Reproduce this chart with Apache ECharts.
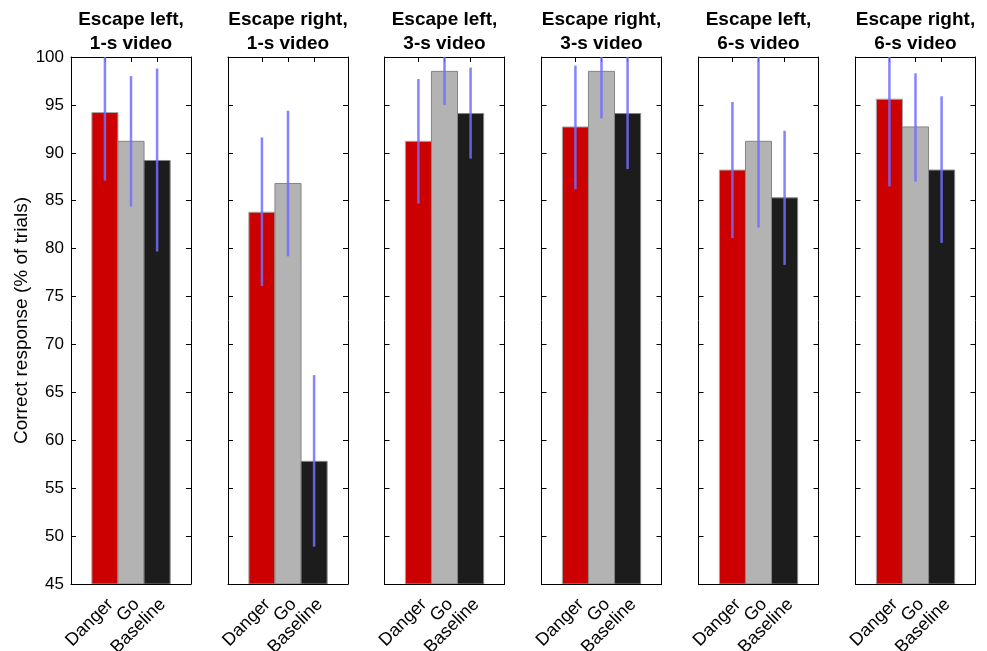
<!DOCTYPE html>
<html>
<head>
<meta charset="utf-8">
<script src="https://cdn.jsdelivr.net/npm/echarts@6/dist/echarts.min.js"></script>
<style>html,body{margin:0;padding:0;background:#fff;}#c{width:987px;height:651px;}</style>
</head>
<body>
<div id="c"></div>
<script>
// ---- data ----
const panelTitles = ['Escape left,\n1-s video','Escape right,\n1-s video','Escape left,\n3-s video','Escape right,\n3-s video','Escape left,\n6-s video','Escape right,\n6-s video'];
const conditions = ['Danger','Go','Baseline'];
const positions = [1, 2, 3];
const means   = [[94.2,91.2,89.2],[83.8,86.8,57.8],[91.2,98.5,94.1],[92.7,98.5,94.1],[88.2,91.2,85.3],[95.6,92.7,88.2]];
const errLow  = [[87.1,84.4,79.7],[76.1,79.2,48.9],[84.7,95.0,89.4],[86.2,93.6,88.3],[81.1,82.2,78.3],[86.5,87.0,80.6]];
const errHigh = [[101.3,98.0,98.8],[91.6,94.4,66.8],[97.7,102.0,98.9],[99.1,103.4,100.0],[95.3,100.3,92.3],[104.8,98.3,95.9]];
const yTicks = [45,50,55,60,65,70,75,80,85,90,95,100];
const yLabel = 'Correct response (% of trials)';

// ---- style ----
const FONT = 'Liberation Sans, Arial, Helvetica, sans-serif';
const barFill = ['#cc0000','#b3b3b3','#1c1c1c'];
const barEdge = ['#a6a6a6','#858585','#858585'];
const errColor = 'rgba(110,110,255,0.85)';
const yMin = 45, yMax = 100, xMin = -0.3, xMax = 4.3;
const lefts = [71, 228, 384.5, 541.5, 698.5, 855.5];
const gridW = 120, gridTop = 57, gridH = 527;

const chart = echarts.init(document.getElementById('c'), null, {renderer:'canvas'});
const grid = [], xAxis = [], yAxis = [], series = [], title = [];
const xLabelStyle = (vals) => ({show: true, customValues: vals, rotate: 45, margin: 12,
  interval: 0, hideOverlap: false, showMinLabel: true, showMaxLabel: true,
  align: 'right', verticalAlign: 'top', lineHeight: 16,
  formatter: v => conditions[Math.round(v) - 1] || '',
  fontFamily: FONT, fontSize: 18, color: '#000'});
lefts.forEach((l, i) => {
  grid.push({left: l, top: gridTop, width: gridW, height: gridH, containLabel: false, outerBoundsMode: 'none'});
  title.push({
    text: panelTitles[i], left: l + gridW/2, top: 8, textAlign: 'center', padding: 0,
    textStyle: {fontFamily: FONT, fontSize: 19, fontWeight: 'bold', color: '#000', lineHeight: 24}
  });
  const axLine = {show: true, onZero: false, lineStyle: {color: '#000', width: 1}};
  // bottom axis: box line, ticks, outer labels
  xAxis.push({
    gridIndex: i, type: 'value', min: xMin, max: xMax, position: 'bottom',
    axisLine: axLine, splitLine: {show: false},
    axisTick: {show: true, inside: true, length: 5, customValues: positions, lineStyle: {color: '#000'}},
    axisLabel: xLabelStyle([positions[0], positions[2]])
  });
  // top axis: box line and ticks
  xAxis.push({
    gridIndex: i, type: 'value', min: xMin, max: xMax, position: 'top',
    axisLine: axLine, splitLine: {show: false},
    axisTick: {show: true, inside: true, length: 5, customValues: positions, lineStyle: {color: '#000'}},
    axisLabel: {show: false}
  });
  // overlay bottom axis for the middle label
  xAxis.push({
    gridIndex: i, type: 'value', min: xMin, max: xMax, position: 'bottom', offset: 0,
    axisLine: {show: false, onZero: false}, axisTick: {show: false}, splitLine: {show: false},
    axisLabel: xLabelStyle([positions[1]])
  });
  yAxis.push({
    gridIndex: i, type: 'value', min: yMin, max: yMax, interval: 5, position: 'left',
    axisLine: axLine, splitLine: {show: false},
    axisTick: {show: true, inside: true, length: 5, lineStyle: {color: '#000'}},
    axisLabel: {show: i === 0, margin: 7, fontFamily: FONT, fontSize: 17, color: '#000',
      customValues: yTicks},
    name: i === 0 ? yLabel : '', nameLocation: 'middle', nameGap: 39, nameRotate: 90,
    nameTextStyle: {fontFamily: FONT, fontSize: 19, color: '#000'}
  });
  yAxis.push({
    gridIndex: i, type: 'value', min: yMin, max: yMax, interval: 5, position: 'right',
    axisLine: axLine, splitLine: {show: false},
    axisTick: {show: true, inside: true, length: 5, lineStyle: {color: '#000'}},
    axisLabel: {show: false}
  });
  // bars
  series.push({
    type: 'custom', xAxisIndex: 3*i, yAxisIndex: 2*i, clip: true,
    data: positions.map((p, k) => [p, means[i][k], k]),
    renderItem: function (params, api) {
      const x = api.value(0), v = api.value(1), c = api.value(2);
      const p1 = api.coord([x - 0.5, v]);
      const p2 = api.coord([x + 0.5, yMin]);
      return {type: 'rect',
        shape: {x: p1[0], y: p1[1], width: p2[0] - p1[0], height: p2[1] - p1[1]},
        style: {fill: barFill[c], stroke: barEdge[c], lineWidth: 1}};
    }
  });
  // error bars
  series.push({
    type: 'custom', xAxisIndex: 3*i, yAxisIndex: 2*i, clip: true, z: 5,
    data: positions.map((p, k) => [p, errLow[i][k], errHigh[i][k]]),
    renderItem: function (params, api) {
      const x = api.value(0);
      const lo = api.coord([x, api.value(1)]);
      const hi = api.coord([x, api.value(2)]);
      const top = params.coordSys.y;
      return {type: 'line',
        shape: {x1: lo[0], y1: lo[1], x2: hi[0], y2: Math.max(hi[1], top)},
        style: {stroke: errColor, lineWidth: 2.5}};
    }
  });
});
chart.setOption({animation: false, backgroundColor: '#fff', title, grid, xAxis, yAxis, series});
</script>
</body>
</html>
